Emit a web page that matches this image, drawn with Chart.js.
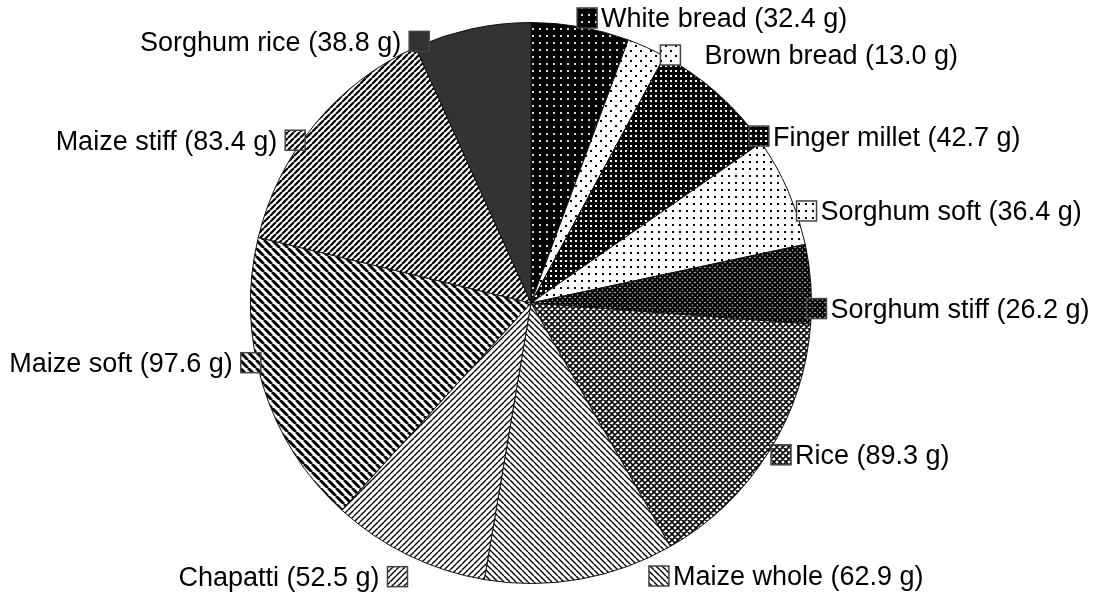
<!DOCTYPE html>
<html>
<head>
<meta charset="utf-8">
<script src="https://cdn.jsdelivr.net/npm/chart.js@4.4.1/dist/chart.umd.min.js"></script>
<style>
  body { margin: 0; background: #fff; }
  #wrap { width: 1114px; height: 597px; }
</style>
</head>
<body>
<div id="wrap"><canvas id="myChart"></canvas></div>
<script>
const foods = [
    'White bread',
    'Brown bread',
    'Finger millet',
    'Sorghum soft',
    'Sorghum stiff',
    'Rice',
    'Maize whole',
    'Chapatti',
    'Maize soft',
    'Maize stiff',
    'Sorghum rice',
]
const grams = [32.4, 13.0, 42.7, 36.4, 26.2, 89.3, 62.9, 52.5, 97.6, 83.4, 38.8]

// label placement tweaks so the tags sit like the original:
// angle shift (degrees, clockwise) and gap outside the rim (px)
const labelNudge = [1, 5, 12, 5, 5, -1, -15, 0, 5, -5, -11]
const labelGap = [10, 4, 2, 10, 5, 12, 21, 24, 6, 6, 4]

const ctx = document.getElementById("myChart").getContext("2d");

// small tile canvases turned into fill patterns
function tile(size, draw) {
    const c = document.createElement('canvas');
    c.width = size; c.height = size;
    const g = c.getContext('2d');
    draw(g, size);
    return ctx.createPattern(c, 'repeat');
}
function dots(bg, fg, size, dot, stagger) {
    return tile(size, (g, s) => {
        g.fillStyle = bg; g.fillRect(0, 0, s, s);
        g.fillStyle = fg;
        g.fillRect(0, 0, dot, dot);
        if (stagger) g.fillRect(s / 2, s / 2, dot, dot);
    });
}
function hatch(size, width, dir) {
    return tile(size, (g, s) => {
        g.fillStyle = '#fff'; g.fillRect(0, 0, s, s);
        g.strokeStyle = '#000'; g.lineWidth = width;
        g.beginPath();
        for (const k of [-s, 0, s]) {
            if (dir === '\\') { g.moveTo(k, 0); g.lineTo(k + s, s); }
            else { g.moveTo(k, s); g.lineTo(k + s, 0); }
        }
        g.stroke();
    });
}
function cross(size, width, bg) {
    return tile(size, (g, s) => {
        g.fillStyle = bg; g.fillRect(0, 0, s, s);
        g.strokeStyle = '#000'; g.lineWidth = width;
        g.beginPath();
        for (const k of [-s, 0, s]) {
            g.moveTo(k, 0); g.lineTo(k + s, s);
            g.moveTo(k, s); g.lineTo(k + s, 0);
        }
        g.stroke();
    });
}

const fills = [
    dots('#000', '#d8d8d8', 7, 2, false),   // white bread
    dots('#fff', '#000', 10, 2, true),      // brown bread
    dots('#000', '#fff', 5, 2, false),      // finger millet
    dots('#fff', '#000', 7, 2, false),      // sorghum soft
    cross(5, 2.2, '#bbb'),                  // sorghum stiff
    cross(6, 1.6, '#fff'),                  // rice
    hatch(6, 1.4, '\\'),                    // maize whole
    hatch(6, 1.4, '/'),                     // chapatti
    hatch(8, 3, '\\'),                      // maize soft
    hatch(6, 2.2, '/'),                     // maize stiff
    '#333333',                              // sorghum rice
]

const tagPlugin = {
    id: 'tags',
    afterDatasetsDraw(chart) {
        const c = chart.ctx;
        const meta = chart.getDatasetMeta(0);
        c.save();
        c.font = '27px "Liberation Sans", Arial, sans-serif';
        c.textBaseline = 'middle';
        meta.data.forEach((arc, i) => {
            const p = arc.getProps(['x', 'y', 'startAngle', 'endAngle', 'outerRadius'], true);
            const mid = (p.startAngle + p.endAngle) / 2 + labelNudge[i] * Math.PI / 180;
            const d = p.outerRadius + labelGap[i];
            const mx = p.x + Math.cos(mid) * d;
            const my = p.y + Math.sin(mid) * d;
            const half = 10;
            c.fillStyle = fills[i];
            c.fillRect(mx - half, my - half, half * 2, half * 2);
            c.strokeStyle = '#444';
            c.lineWidth = 1.5;
            c.strokeRect(mx - half, my - half, half * 2, half * 2);
            c.fillStyle = '#000';
            const txt = foods[i] + ' (' + grams[i].toFixed(1) + ' g)';
            if (Math.cos(mid) >= 0) {
                c.textAlign = 'left';
                c.fillText(txt, mx + half + (i === 1 ? 24 : 4), my + 2);
            } else {
                c.textAlign = 'right';
                c.fillText(txt, mx - half - 8, my + 2);
            }
        });
        c.restore();
    }
}

const data = {
    labels: foods,
    datasets: [{
        data: grams,
        backgroundColor: fills,
        borderColor: '#111',
        borderWidth: 1,
    }]
}

const config = {
    type: 'pie',
    data: data,
    options: {
        responsive: true,
        maintainAspectRatio: false,
        animation: false,
        layout: { padding: { top: 22, bottom: 13, left: 0, right: 52 } },
        plugins: {
            legend: { display: false },
            tooltip: { enabled: false },
        },
    },
    plugins: [tagPlugin],
};

const myChart = new Chart(ctx, config)
</script>
</body>
</html>
